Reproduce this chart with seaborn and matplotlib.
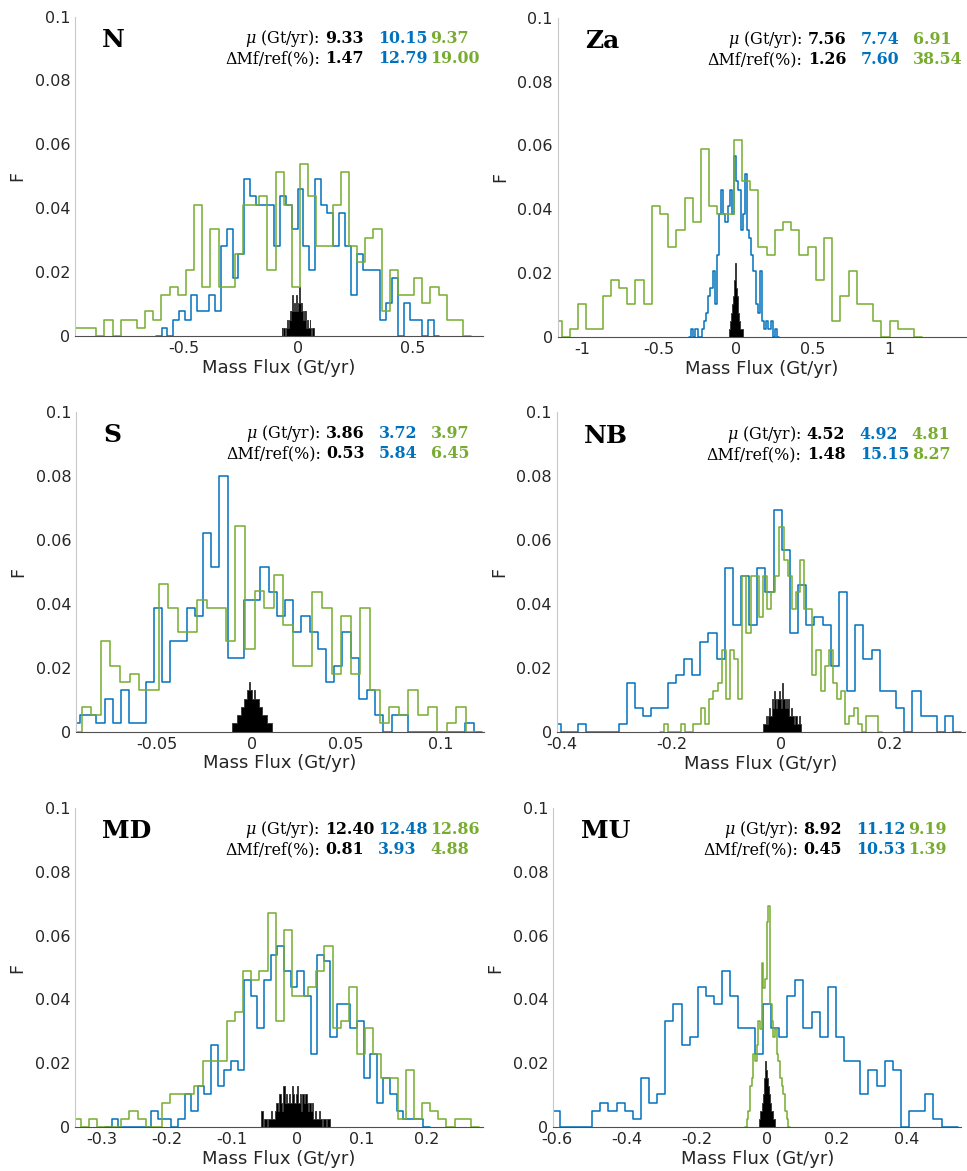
import numpy as np
import pandas as pd
import matplotlib
matplotlib.use("Agg")
import matplotlib.pyplot as plt
import seaborn as sns

# ------------------------------------------------------------------ data
panel_names = ["N", "Za", "S", "NB", "MD", "MU"]

mu_black = ["9.33", "7.56", "3.86", "4.52", "12.40", "8.92"]
mu_blue = ["10.15", "7.74", "3.72", "4.92", "12.48", "11.12"]
mu_green = ["9.37", "6.91", "3.97", "4.81", "12.86", "9.19"]
dmf_black = ["1.47", "1.26", "0.53", "1.48", "0.81", "0.45"]
dmf_blue = ["12.79", "7.60", "5.84", "15.15", "3.93", "10.53"]
dmf_green = ["19.00", "38.54", "6.45", "8.27", "4.88", "1.39"]

xlims = [(-0.974, 0.808), (-1.158, 1.497), (-0.0931, 0.1231),
         (-0.41, 0.337), (-0.341, 0.287), (-0.61, 0.557)]
xtick_vals = [[-0.5, 0, 0.5], [-1, -0.5, 0, 0.5, 1], [-0.05, 0, 0.05, 0.1],
              [-0.4, -0.2, 0, 0.2], [-0.3, -0.2, -0.1, 0, 0.1, 0.2],
              [-0.6, -0.4, -0.2, 0, 0.2, 0.4]]
xtick_labels = [["-0.5", "0", "0.5"], ["-1", "-0.5", "0", "0.5", "1"],
                ["-0.05", "0", "0.05", "0.1"], ["-0.4", "-0.2", "0", "0.2"],
                ["-0.3", "-0.2", "-0.1", "0", "0.1", "0.2"],
                ["-0.6", "-0.4", "-0.2", "0", "0.2", "0.4"]]
ytick_vals = [0, 0.02, 0.04, 0.06, 0.08, 0.1]
ytick_labels = ["0", "0.02", "0.04", "0.06", "0.08", "0.1"]

# bin ranges (first/last edge) and relative frequencies per bin
N_green_rng = (-0.988, 0.721)
N_green_F = [0.0026, 0.0026, 0.0026, 0, 0.0051, 0, 0.0051, 0.0051, 0.0026, 0.0077,
             0.0051, 0.0129, 0.0154, 0.0129, 0.0206, 0.041, 0.0154, 0.0334, 0.0154, 0.0154,
             0.0257, 0.041, 0.041, 0.0437, 0.0206, 0.0514, 0.041, 0.0154, 0.054, 0.0437,
             0.0283, 0.0283, 0.041, 0.0514, 0.0283, 0.0231, 0.0308, 0.0334, 0.0077, 0.0206,
             0.0129, 0.0129, 0.018, 0.0103, 0.0154, 0.0129, 0.0051, 0.0051]
N_blue_rng = (-0.596, 0.592)
N_blue_F = [0.0026, 0, 0.0051, 0.0077, 0.0051, 0.0129, 0.0077, 0.0077, 0.0129, 0.0077,
            0.0283, 0.0334, 0.018, 0.0257, 0.049, 0.0437, 0.041, 0.041, 0.041, 0.0283,
            0.0437, 0.041, 0.0334, 0.046, 0.0283, 0.0206, 0.049, 0.041, 0.0386, 0.0283,
            0.0386, 0.0283, 0.0129, 0.0257, 0.0206, 0.0206, 0.0206, 0.0051, 0.0103, 0.018,
            0, 0.0103, 0.0051, 0.0051, 0, 0.0051]
N_black_rng = (-0.072, 0.072)
N_black_F = [0.0026, 0, 0.0026, 0.0026, 0, 0.0026, 0.0026, 0.0051, 0.0026, 0.0051,
             0.0077, 0.0051, 0.0077, 0.0128, 0.0077, 0.0103, 0.0077, 0.0103, 0.0128, 0.0077,
             0.0103, 0.0154, 0.0103, 0.0077, 0.0103, 0.0077, 0.0051, 0.0077, 0.0051, 0.0077,
             0.0026, 0.0051, 0.0026, 0.0026, 0.0051, 0.0026, 0, 0.0026, 0.0026, 0]

Za_green_rng = (-1.186, 1.162)
Za_green_F = [0.0051, 0, 0.0026, 0.0103, 0.0026, 0.0026, 0.0129, 0.018, 0.0154, 0.0103,
              0.018, 0.0103, 0.041, 0.0386, 0.0283, 0.0334, 0.0437, 0.036, 0.059, 0.041,
              0.0386, 0.0386, 0.0617, 0.049, 0.046, 0.0283, 0.0257, 0.0334, 0.036, 0.0334,
              0.0257, 0.0283, 0.018, 0.031, 0.0051, 0.0129, 0.0206, 0.0103, 0.0103, 0.0051,
              0, 0.0051, 0.0026, 0.0026]
Za_blue_rng = (-0.29, 0.27)
Za_blue_F = [0.0026, 0, 0.0026, 0, 0, 0.0026, 0.0051, 0.0077, 0.0129, 0.0154,
             0.0206, 0.0103, 0.0257, 0.0386, 0.046, 0.0386, 0.036, 0.041, 0.046, 0.0386,
             0.0566, 0.049, 0.046, 0.0334, 0.0386, 0.051, 0.0334, 0.0309, 0.0257, 0.0206,
             0.0103, 0.0077, 0.0206, 0.0051, 0.0026, 0.0051, 0.0026, 0.0051, 0, 0.0026]
Za_black_rng = (-0.045, 0.045)
Za_black_F = [0.0026, 0.0026, 0.0051, 0.0051, 0.0077, 0.0103, 0.0129, 0.0154, 0.018, 0.0231,
              0.0206, 0.0154, 0.0129, 0.0103, 0.0077, 0.0051, 0.0051, 0.0026, 0.0026, 0.0026]

S_green_rng = (-0.0901, 0.1136)
S_green_F = [0.0077, 0.0051, 0.0283, 0.0206, 0.0154, 0.018, 0.0129, 0.0129, 0.046, 0.0386,
             0.031, 0.031, 0.041, 0.0386, 0.0386, 0.0283, 0.0643, 0.0257, 0.044, 0.0386,
             0.049, 0.0334, 0.0206, 0.0206, 0.0437, 0.0386, 0.018, 0.036, 0.018, 0.0386,
             0.0129, 0.0026, 0.0077, 0.0051, 0.0129, 0.0051, 0.0077, 0, 0.0026, 0.0077]
S_blue_rng = (-0.0953, 0.1176)
S_blue_F = [0.0026, 0.0051, 0.0051, 0.0026, 0.0103, 0.0026, 0.0129, 0.0026, 0.0026, 0.0154,
            0.0386, 0.0154, 0.0283, 0.0283, 0.0386, 0.036, 0.062, 0.0515, 0.08, 0.023,
            0.023, 0.041, 0.041, 0.0515, 0.0437, 0.036, 0.041, 0.031, 0.036, 0.031,
            0.0257, 0.0154, 0.0206, 0.031, 0.023, 0.0103, 0.0129, 0.0051, 0, 0.0051,
            0.0051, 0, 0, 0, 0, 0, 0, 0, 0.0026]
S_black_rng = (-0.0102, 0.0106)
S_black_F = [0.0026, 0.0026, 0.0026, 0.0051, 0.0051, 0.0077, 0.0077, 0.0103, 0.0103, 0.0129,
             0.0154, 0.0129, 0.0103, 0.0129, 0.0103, 0.0103, 0.0077, 0.0077, 0.0051, 0.0051,
             0.0051, 0.0026, 0.0026, 0.0026]

NB_blue_rng = (-0.4162, 0.3159)
NB_blue_F = [0.0026, 0, 0, 0.0026, 0, 0, 0, 0, 0.0026, 0.0154,
             0.0077, 0.0051, 0.0077, 0.0077, 0.0154, 0.018, 0.023, 0.018, 0.0283, 0.031,
             0.023, 0.0515, 0.0334, 0.049, 0.0334, 0.0515, 0.0437, 0.0695, 0.057, 0.031,
             0.046, 0.0334, 0.036, 0.0334, 0.0206, 0.0437, 0.0129, 0.0334, 0.023, 0.0257,
             0.0129, 0.0129, 0.0077, 0, 0.0129, 0.0051, 0.0051, 0, 0.0051]
NB_green_rng = (-0.2134, 0.1787)
NB_green_F = [0.0026, 0, 0, 0, 0.0026, 0, 0, 0.0026, 0.0026, 0.0077,
              0.0026, 0.0103, 0.0129, 0.0154, 0.0257, 0.0103, 0.0257, 0.023, 0.0103, 0.049,
              0.031, 0.049, 0.049, 0.036, 0.049, 0.0386, 0.044, 0.049, 0.0643, 0.054,
              0.049, 0.0386, 0.044, 0.054, 0.0386, 0.0386, 0.018, 0.0257, 0.0129, 0.0206,
              0.0257, 0.0154, 0.0103, 0.0129, 0.0026, 0.0051, 0.0077, 0.0026, 0, 0.0051,
              0.0051, 0.0051]
NB_black_rng = (-0.032, 0.038)
NB_black_F = [0.0026, 0.0026, 0.0051, 0.0026, 0.0051, 0.0077, 0.0051, 0.0103, 0.0077, 0.0128,
              0.0103, 0.0077, 0.0103, 0.0128, 0.0103, 0.0077, 0.0154, 0.0103, 0.0077, 0.0103,
              0.0077, 0.0103, 0.0051, 0.0077, 0.0051, 0.0051, 0.0026, 0.0051, 0.0026, 0.0026,
              0.0051, 0.0026]

MD_green_rng = (-0.3449, 0.2682)
MD_green_F = [0.0026, 0, 0.0026, 0, 0, 0, 0.0026, 0.0051, 0.0026, 0,
              0, 0.0077, 0.0103, 0.0103, 0.0103, 0.0129, 0.0206, 0.0206, 0.0206, 0.0334,
              0.036, 0.049, 0.046, 0.049, 0.067, 0.0334, 0.0617, 0.041, 0.041, 0.044,
              0.049, 0.0566, 0.031, 0.0334, 0.044, 0.023, 0.031, 0.023, 0.0154, 0.0154,
              0.0026, 0.018, 0.0026, 0.0077, 0.0051, 0.0026, 0, 0.0026, 0.0026]
MD_blue_rng = (-0.2846, 0.1949)
MD_blue_F = [0.0026, 0, 0, 0, 0, 0, 0.0051, 0.0026, 0.0026, 0,
             0.0026, 0.0103, 0.0051, 0.0129, 0.0103, 0.0257, 0.0129, 0.018, 0.0206, 0.018,
             0.046, 0.041, 0.031, 0.046, 0.054, 0.0566, 0.049, 0.044, 0.049, 0.041,
             0.023, 0.054, 0.052, 0.0283, 0.0386, 0.0386, 0.031, 0.0334, 0.0154, 0.023,
             0.0077, 0.0154, 0.0103, 0.0051, 0.0026, 0.0026, 0.0026]
MD_black_rng = (-0.054, 0.051)
MD_black_F = [0.0051, 0, 0.0026, 0.0026, 0, 0.0026, 0.0026, 0.0051, 0.0026, 0.0026,
              0.0051, 0.0077, 0.0051, 0.0103, 0.0077, 0.0051, 0.0129, 0.0077, 0.0103, 0.0077,
              0.0103, 0.0077, 0.0129, 0.0103, 0.0077, 0.0103, 0.0129, 0.0077, 0.0103, 0.0051,
              0.0103, 0.0077, 0.0103, 0.0077, 0.0051, 0.0077, 0.0051, 0.0077, 0.0026, 0.0051,
              0.0026, 0.0026, 0.0051, 0.0026, 0, 0.0026, 0.0026, 0, 0.0026, 0.0026]

MU_blue_rng = (-0.6149, 0.5238)
MU_blue_F = [0.0051, 0, 0, 0, 0, 0.0051, 0.0077, 0.0051, 0.0077, 0.0051,
             0.0026, 0.0154, 0.0077, 0.0103, 0.0334, 0.0386, 0.0257, 0.0283, 0.044, 0.041,
             0.0386, 0.049, 0.041, 0.031, 0.031, 0.023, 0.0386, 0.031, 0.0283, 0.041,
             0.046, 0.031, 0.036, 0.0283, 0.044, 0.0283, 0.0206, 0.0206, 0.0103, 0.018,
             0.0129, 0.0206, 0.018, 0, 0.0051, 0.0051, 0.0103, 0.0026, 0]
MU_green_rng = (-0.057, 0.062)
MU_green_F = [0.0026, 0.0051, 0.0129, 0.0154, 0.0231, 0.0206, 0.0257, 0.0334, 0.0309, 0.0514,
              0.0437, 0.0463, 0.0643, 0.0694, 0.0386, 0.0334, 0.0283, 0.0309, 0.0231, 0.0206,
              0.0154, 0.0129, 0.0103, 0.0051, 0.0026]
MU_black_rng = (-0.021, 0.024)
MU_black_F = [0.0026, 0.0051, 0.0051, 0.0077, 0.0103, 0.0129, 0.0154, 0.0206, 0.018, 0.0154,
              0.0129, 0.0103, 0.0077, 0.0077, 0.0051, 0.0051, 0.0026, 0.0026]

black_series = [(N_black_rng, N_black_F), (Za_black_rng, Za_black_F), (S_black_rng, S_black_F),
                (NB_black_rng, NB_black_F), (MD_black_rng, MD_black_F), (MU_black_rng, MU_black_F)]
blue_series = [(N_blue_rng, N_blue_F), (Za_blue_rng, Za_blue_F), (S_blue_rng, S_blue_F),
               (NB_blue_rng, NB_blue_F), (MD_blue_rng, MD_blue_F), (MU_blue_rng, MU_blue_F)]
green_series = [(N_green_rng, N_green_F), (Za_green_rng, Za_green_F), (S_green_rng, S_green_F),
                (NB_green_rng, NB_green_F), (MD_green_rng, MD_green_F), (MU_green_rng, MU_green_F)]

# ------------------------------------------------------------------ style
sns.set_style("white")
plt.rcParams["font.family"] = ["DejaVu Sans"]
plt.rcParams["axes.unicode_minus"] = False
plt.rcParams["mathtext.fontset"] = "dejavuserif"

BLUE = "#0072BD"
GREEN = "#77AC30"
BLACK = "#000000"
TXT = "#262626"

fig = plt.figure(figsize=(9.67, 11.71), dpi=100)
rects = [[0.0776, 0.7131, 0.4219, 0.2727], [0.5767, 0.7120, 0.4219, 0.2730],
         [0.0786, 0.3752, 0.4219, 0.2733], [0.5757, 0.3746, 0.4219, 0.2733],
         [0.0776, 0.0373, 0.4219, 0.2729], [0.5722, 0.0373, 0.4219, 0.2729]]


def draw_hist(ax, rng, F, color, fill):
    F = np.asarray(F, dtype=float)
    edges = np.linspace(rng[0], rng[1], len(F) + 1)
    w = edges[1] - edges[0]
    edges = np.concatenate([[edges[0] - w], edges, [edges[-1] + w]])
    df = pd.DataFrame({"x": 0.5 * (edges[:-1] + edges[1:]),
                       "F": np.concatenate([[0.0], F, [0.0]])})
    if fill:
        sns.histplot(data=df, x="x", weights="F", bins=edges.tolist(), element="step",
                     fill=True, color=color, alpha=1.0, linewidth=0.6,
                     edgecolor="#333333", ax=ax)
    else:
        sns.histplot(data=df, x="x", weights="F", bins=edges.tolist(), element="step",
                     fill=False, color=color, linewidth=1.1, ax=ax)


for i, name in enumerate(panel_names):
    ax = fig.add_axes(rects[i])
    draw_hist(ax, black_series[i][0], black_series[i][1], BLACK, True)
    draw_hist(ax, blue_series[i][0], blue_series[i][1], BLUE, False)
    draw_hist(ax, green_series[i][0], green_series[i][1], GREEN, False)

    ax.set_xlim(*xlims[i])
    ax.set_ylim(0, 0.1)
    ax.set_xticks(xtick_vals[i])
    ax.set_xticklabels(xtick_labels[i])
    ax.set_yticks(ytick_vals)
    ax.set_yticklabels(ytick_labels)
    ax.set_xlabel("Mass Flux (Gt/yr)", fontsize=13, color=TXT, labelpad=2)
    ax.set_ylabel("F", fontsize=12.5, color=TXT, labelpad=6)
    ax.tick_params(axis="both", direction="in", length=3.5, width=0.7,
                   color="#c0c0c0", labelsize=11.5, labelcolor=TXT, pad=3.5)
    for s in ["top", "right"]:
        ax.spines[s].set_visible(False)
    ax.spines["left"].set_color("#c8c8c8")
    ax.spines["left"].set_linewidth(0.8)
    ax.spines["bottom"].set_color("#505050")
    ax.spines["bottom"].set_linewidth(0.8)
    ax.set_facecolor("white")

    # panel name
    ax.text(0.067, 0.905, name, transform=ax.transAxes, fontsize=18,
            fontweight="bold", family="DejaVu Serif", color="black",
            ha="left", va="baseline")
    # statistics
    for yy, lab, vals in [(0.918, r"$\mu$ (Gt/yr):", (mu_black[i], mu_blue[i], mu_green[i])),
                          (0.854, "ΔMf/ref(%):", (dmf_black[i], dmf_blue[i], dmf_green[i]))]:
        ax.text(0.600, yy, lab, transform=ax.transAxes, fontsize=11.4,
                family="DejaVu Serif", color="black", ha="right", va="baseline")
        for xx, v, c in zip((0.613, 0.743, 0.870), vals, (BLACK, BLUE, GREEN)):
            ax.text(xx, yy, v, transform=ax.transAxes, fontsize=11.4,
                    family="DejaVu Serif", fontweight="bold", color=c,
                    ha="left", va="baseline")

fig.savefig("out.png", dpi=100, facecolor="white")
